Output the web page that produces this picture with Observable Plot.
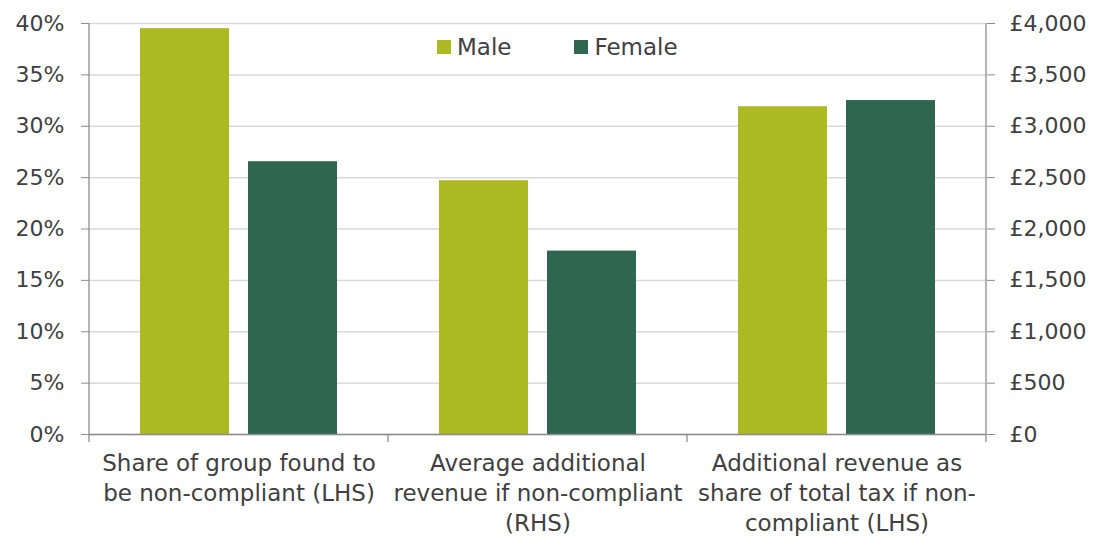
<!DOCTYPE html>
<html>
<head>
<meta charset="utf-8">
<script src="https://cdn.jsdelivr.net/npm/d3@7"></script>
<script src="https://cdn.jsdelivr.net/npm/@observablehq/plot@0.6"></script>
<style>
  html, body { margin: 0; padding: 0; background: #ffffff; }
  #wrap { position: relative; width: 1096px; height: 540px; overflow: hidden; font-family: "DejaVu Sans", sans-serif; }
  #legend { position: absolute; left: 437px; top: 34px; display: flex; align-items: center; font-size: 23px; color: #404040; }
  #legend .item { display: flex; align-items: center; }
  #legend .sw { width: 14px; height: 14px; margin-right: 6px; }
</style>
</head>
<body>
<div id="wrap"></div>
<script>
// ---- Data ----
const categories = [
  "Share of group found to be non-compliant (LHS)",
  "Average additional revenue if non-compliant (RHS)",
  "Additional revenue as share of total tax if non-compliant (LHS)"
];
const categoryLabels = [
  "Share of group found to\nbe non-compliant (LHS)",
  "Average additional\nrevenue if non-compliant\n(RHS)",
  "Additional revenue as\nshare of total tax if non-\ncompliant (LHS)"
];
const categoryUnits = ["pct", "gbp", "pct"];
const groups = ["Male", "Female"];
const maleValues = [39.5, 2470, 31.9];
const femaleValues = [26.55, 1785, 32.5];
const leftTicks = [0, 5, 10, 15, 20, 25, 30, 35, 40];
const rightTicks = [0, 500, 1000, 1500, 2000, 2500, 3000, 3500, 4000];
const colors = ["#adb923", "#2f6650"];

// £ values are plotted on the right-hand axis: £4,000 aligns with 40%
const gbpPerPct = rightTicks[rightTicks.length - 1] / leftTicks[leftTicks.length - 1];
const toLeft = (v, unit) => unit === "gbp" ? v / gbpPerPct : v;

const rows = [];
categories.forEach((c, i) => {
  rows.push({category: c, sex: "Male", value: maleValues[i], y: toLeft(maleValues[i], categoryUnits[i])});
  rows.push({category: c, sex: "Female", value: femaleValues[i], y: toLeft(femaleValues[i], categoryUnits[i])});
});

const axisGray = "#8c8c8c";
const textColor = "#404040";

const plot = Plot.plot({
  width: 1096,
  height: 540,
  marginTop: 23,
  marginBottom: 106,
  marginLeft: 88,
  marginRight: 110,
  style: {fontFamily: "DejaVu Sans, sans-serif", fontSize: "22px", color: textColor, background: "white", overflow: "visible"},
  fx: {domain: categories, padding: 0, label: null},
  x: {domain: groups, paddingInner: 0.174, paddingOuter: 0.459, axis: null},
  y: {domain: [0, 40], label: null},
  color: {domain: groups, range: colors},
  marks: [
    Plot.gridY(leftTicks, {stroke: "#d9d9d9", strokeOpacity: 1, strokeWidth: 1.5}),
    Plot.barY(rows, {fx: "category", x: "sex", y: "y", fill: "sex"}),
    Plot.ruleY([0], {stroke: axisGray, strokeWidth: 1.3}),
    Plot.axisY(leftTicks, {anchor: "left", tickFormat: d => d + "%", tickSize: 8, tickPadding: 17, stroke: axisGray, fill: textColor, fontSize: 22, label: null}),
    Plot.axisY(rightTicks.map(d => d / gbpPerPct), {anchor: "right", tickFormat: d => "£" + d3.format(",")(Math.round(d * gbpPerPct)), tickSize: 8, tickPadding: 15, stroke: axisGray, fill: textColor, fontSize: 22, label: null}),
    Plot.axisFx({anchor: "bottom", tickSize: 0, tickPadding: 15, fontSize: 23, lineHeight: 1.3, fill: textColor, tickFormat: d => categoryLabels[categories.indexOf(d)], label: null})
  ]
});

// axis lines and category boundary ticks, positioned from Plot's own scales
const fx = plot.scale("fx");
const ys = plot.scale("y");
const y0 = ys.apply(0), yTop = ys.apply(40);
const edges = categories.map(c => fx.apply(c));
edges.push(fx.apply(categories[categories.length - 1]) + fx.bandwidth);
const svg = d3.select(plot);
const g = svg.append("g").attr("stroke", axisGray).attr("stroke-width", 1.3);
edges.forEach((x, i) => {
  const top = (i === 0 || i === edges.length - 1) ? yTop : y0;
  g.append("line").attr("x1", x).attr("x2", x).attr("y1", top).attr("y2", y0 + 8);
});

const wrap = document.getElementById("wrap");
wrap.appendChild(plot);

// legend
const legend = document.createElement("div");
legend.id = "legend";
groups.forEach((grp, i) => {
  const item = document.createElement("div");
  item.className = "item";
  if (i > 0) item.style.marginLeft = "63px";
  const sw = document.createElement("span");
  sw.className = "sw";
  sw.style.background = colors[i];
  const t = document.createElement("span");
  t.textContent = grp;
  item.appendChild(sw);
  item.appendChild(t);
  legend.appendChild(item);
});
wrap.appendChild(legend);
</script>
</body>
</html>
